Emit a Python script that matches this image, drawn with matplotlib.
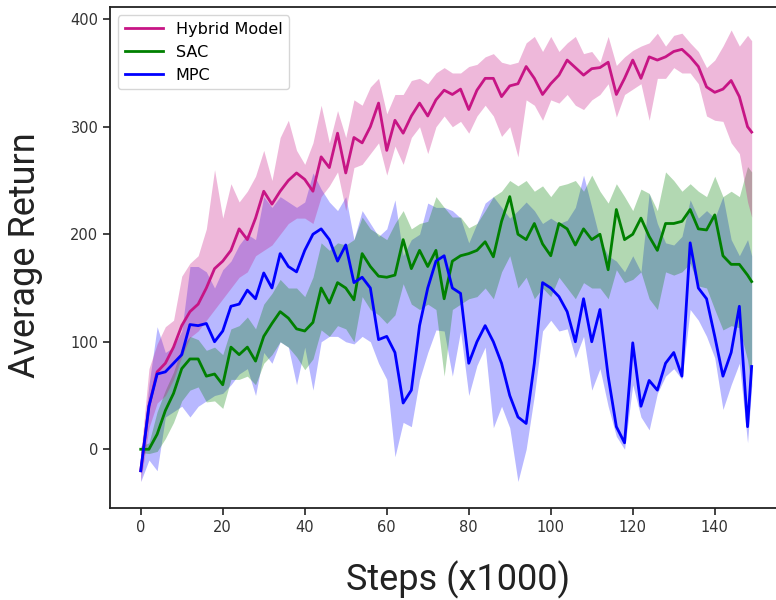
import numpy as np
import matplotlib
matplotlib.use("Agg")
import matplotlib.pyplot as plt

# training steps (x1000), logged every 2k steps plus the final one
steps = list(range(0, 150, 2)) + [149]

# Hybrid Model: mean return and shaded band
hybrid_mean = [-20, 40, 72, 80, 95, 115, 128, 135, 150, 168,
               175, 185, 205, 195, 215, 240, 228, 240, 250, 257,
               251, 240, 272, 262, 294, 257, 290, 285, 300, 322,
               278, 306, 294, 310, 322, 310, 325, 334, 330, 335,
               316, 334, 345, 345, 328, 338, 340, 356, 345, 330,
               340, 348, 362, 355, 348, 354, 355, 360, 330, 345,
               362, 345, 365, 362, 365, 370, 372, 365, 356, 337,
               332, 335, 343, 328, 300, 295]
hybrid_lo = [-30, 20, 43, 50, 65, 86, 104, 110, 120, 130,
             140, 150, 160, 165, 180, 185, 190, 200, 210, 215,
             215, 210, 235, 245, 258, 222, 262, 265, 275, 285,
             255, 282, 265, 290, 300, 275, 300, 310, 300, 305,
             294, 310, 320, 310, 291, 300, 272, 325, 320, 306,
             325, 322, 330, 320, 316, 325, 330, 340, 309, 330,
             335, 340, 306, 345, 345, 355, 350, 350, 340, 310,
             306, 305, 285, 275, 230, 216]
hybrid_hi = [-5, 75, 98, 114, 120, 161, 173, 180, 205, 260,
             215, 247, 230, 240, 254, 278, 250, 290, 306, 278,
             265, 285, 320, 285, 315, 290, 325, 320, 337, 345,
             312, 330, 330, 343, 345, 340, 350, 355, 350, 350,
             356, 358, 365, 368, 360, 358, 360, 378, 384, 370,
             384, 370, 378, 384, 368, 370, 360, 384, 357, 365,
             371, 375, 378, 387, 375, 385, 387, 378, 370, 355,
             362, 375, 390, 375, 385, 380]

# SAC
sac_mean = [0, 0, 14, 36, 52, 75, 84, 84, 68, 70,
            60, 95, 88, 95, 82, 105, 117, 128, 122, 112,
            110, 118, 150, 136, 155, 150, 139, 182, 170, 161,
            160, 162, 195, 168, 185, 170, 185, 140, 175, 180,
            182, 185, 193, 179, 212, 235, 200, 195, 210, 191,
            180, 210, 205, 190, 205, 195, 200, 167, 223, 195,
            200, 215, 198, 185, 210, 210, 212, 223, 205, 204,
            218, 180, 172, 172, 162, 156]
sac_lo = [-3, -4, -2, 10, 25, 45, 55, 58, 44, 45,
          38, 65, 65, 68, 60, 80, 88, 100, 95, 86,
          74, 84, 111, 105, 115, 112, 100, 142, 130, 125,
          117, 125, 154, 135, 130, 135, 130, 68, 130, 135,
          140, 142, 150, 140, 165, 180, 150, 160, 140, 150,
          142, 160, 150, 140, 155, 150, 150, 140, 167, 155,
          158, 165, 140, 130, 165, 162, 165, 173, 152, 150,
          130, 111, 115, 113, 83, 58]
sac_hi = [3, 6, 35, 55, 72, 95, 105, 102, 92, 95,
          88, 112, 115, 123, 112, 135, 145, 158, 150, 150,
          142, 160, 192, 185, 192, 190, 195, 216, 205, 200,
          195, 210, 222, 205, 210, 212, 235, 225, 216, 216,
          206, 210, 222, 235, 240, 250, 245, 250, 240, 245,
          235, 245, 247, 250, 240, 255, 240, 229, 247, 235,
          222, 242, 238, 222, 258, 250, 240, 247, 240, 235,
          254, 235, 240, 235, 263, 258]

# MPC
mpc_mean = [-20, 40, 70, 72, 80, 88, 116, 115, 117, 100,
            110, 133, 135, 148, 140, 164, 150, 182, 170, 165,
            185, 200, 205, 195, 175, 190, 155, 160, 150, 102,
            105, 90, 43, 55, 115, 150, 175, 180, 150, 145,
            80, 100, 115, 100, 80, 50, 30, 24, 80, 155,
            150, 142, 128, 100, 140, 100, 130, 68, 21, 6,
            99, 40, 64, 55, 80, 90, 68, 192, 150, 140,
            105, 68, 90, 133, 21, 77]
mpc_lo = [-30, -10, -20, 30, 35, 40, 30, 40, 45, 50,
          52, 60, 70, 75, 50, 90, 80, 100, 95, 60,
          95, 55, 100, 105, 105, 100, 98, 105, 100, 80,
          65, -7, 25, 21, 65, 90, 111, 110, 68, 110,
          50, 78, 95, 20, 40, 20, -30, 0, 50, 110,
          120, 110, 112, 85, 105, 55, 75, 40, 12, 0,
          60, 30, 18, 52, 68, 75, 65, 130, 120, 105,
          85, 37, 60, 80, 6, 58]
mpc_hi = [-10, 60, 114, 90, 95, 110, 170, 170, 165, 150,
          167, 175, 190, 200, 195, 235, 225, 235, 230, 225,
          230, 257, 242, 230, 222, 235, 195, 222, 210, 198,
          205, 232, 180, 195, 200, 229, 225, 225, 222, 215,
          192, 210, 229, 235, 225, 215, 222, 230, 222, 210,
          215, 210, 213, 225, 255, 225, 195, 180, 175, 165,
          180, 165, 238, 210, 192, 190, 198, 232, 215, 222,
          215, 235, 195, 180, 195, 180]

fig = plt.figure(figsize=(7.76, 6), dpi=100)
ax = fig.add_axes([110.2 / 776, 91.6 / 600, 672 / 776, 501 / 600])

# bands first, lines on top
ax.fill_between(steps, mpc_lo, mpc_hi, color="blue", alpha=0.28, lw=0)
ax.fill_between(steps, sac_lo, sac_hi, color="green", alpha=0.3, lw=0)
ax.fill_between(steps, hybrid_lo, hybrid_hi, color="mediumvioletred", alpha=0.3, lw=0)

ax.plot(steps, hybrid_mean, color="mediumvioletred", lw=2, label="Hybrid Model")
ax.plot(steps, sac_mean, color="green", lw=2, label="SAC")
ax.plot(steps, mpc_mean, color="blue", lw=2, label="MPC")

ax.set_xlim(-7.45, 156.45)
ax.set_ylim(-55, 411)
ax.set_xticks(range(0, 141, 20))
ax.set_yticks(range(0, 401, 100))
ax.tick_params(labelsize=10.5, labelcolor="#333333", length=5, width=1.2, color="#222222")
for sp in ax.spines.values():
    sp.set_color("#222222")
    sp.set_linewidth(1.3)

ax.set_xlabel("Steps (x1000)", fontsize=26, family="Roboto", color="#222222", va="top")
ax.set_ylabel("Average Return", fontsize=26, family="Roboto", color="#222222")
ax.xaxis.set_label_coords(0.518, -0.105)
ax.yaxis.set_label_coords(-0.10, 0.505)

ax.legend(loc="upper left", fontsize=11.5, handlelength=2.4, handletextpad=0.8,
          borderaxespad=0.5)

fig.savefig("out.png", dpi=100)
